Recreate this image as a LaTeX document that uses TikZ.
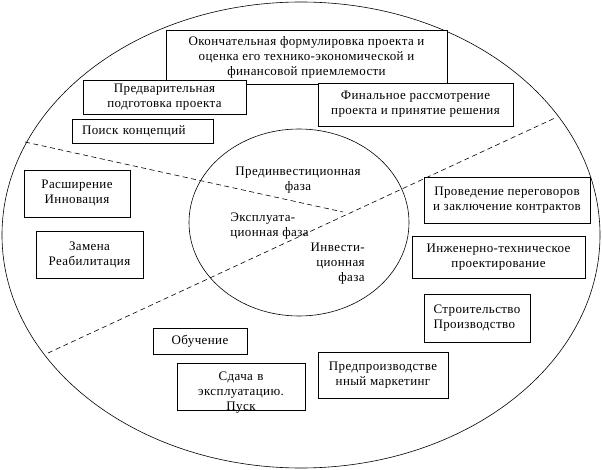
\documentclass[tikz,border=0pt]{standalone}
\usepackage{fontspec}
\setmainfont[LetterSpace=3]{Liberation Serif}
\usetikzlibrary{positioning}

\begin{document}
\begin{tikzpicture}[x=1pt, y=-1pt, line width=0.6pt,
  box/.style={rectangle, draw, fill=white, inner sep=0pt, align=center, font=\fontsize{13}{15}\selectfont},
  phase/.style={inner sep=0pt, font=\fontsize{13}{15}\selectfont},
  divider/.style={dash pattern=on 5pt off 3.5pt}
]
  \useasboundingbox (0,0) rectangle (602,470);

  % Ellipses
  \draw (301,235) ellipse [x radius=299pt, y radius=233pt];
  \draw (299,222.5) ellipse [x radius=110pt, y radius=93.5pt];

  % Dividers
  \coordinate (hub) at (343,212);
  \coordinate (cutwest) at (25,142);
  \coordinate (cutsouth) at (48,353);
  \coordinate (cuteast) at (555,118);
  \draw[divider] (cutwest) -- (hub);
  \draw[divider] (cutsouth) -- (cuteast);

  % Phases
  \node[phase, align=center] (preinv) at (298,180) {Прединвестиционная\\фаза};
  \node[phase, align=left, anchor=west] (oper) at (230,226) {Эксплуата-\\ционная фаза};
  \node[phase, align=right, anchor=east] (inv) at (365,264) {Инвести-\\ционная\\фаза};

  % Pre-investment phase
  \node[box, minimum width=281pt, minimum height=54pt] (formul) at (306.5,57) {Окончательная формулировка проекта и\\оценка его технико-экономической и\\финансовой приемлемости};
  \node[box, minimum width=163pt, minimum height=34pt] (prelim) at (164.5,97) {Предварительная\\подготовка проекта};
  \node[box, minimum width=141pt, minimum height=24pt, text width=121pt, align=left, below=5pt of prelim, xshift=-22pt] (search) {Поиск концепций};
  \node[box, minimum width=195pt, minimum height=43pt] (final) at (415.5,104.5) {Финальное рассмотрение\\проекта и принятие решения};

  % Investment phase
  \node[box, minimum width=166pt, minimum height=46pt] (talks) at (507,200) {Проведение переговоров\\и заключение контрактов};
  \node[box, minimum width=173pt, minimum height=42pt, below=13pt of talks, xshift=-8.5pt] (design) {Инженерно-техническое\\проектирование};
  \node[box, minimum width=106pt, minimum height=48pt, align=left, below=15pt of design, xshift=-21.5pt] (build) {Строительство\\Производство};
  \node[box, minimum width=130pt, minimum height=46pt] (market) at (383,375) {Предпроизводстве\\нный маркетинг};
  \node[box, minimum width=94pt, minimum height=26pt] (train) at (200,341) {Обучение};
  \node[box, text width=128pt, text height=17pt, text depth=30pt] (launch) at (241,386.5) {Сдача в\\эксплуатацию.\\Пуск};

  % Operational phase
  \node[box, minimum width=106pt, minimum height=47pt] (expand) at (77,193.5) {Расширение\\Инновация};
  \node[box, minimum width=107pt, minimum height=47pt, below=14pt of expand, xshift=12.5pt] (replace) {Замена\\Реабилитация};
\end{tikzpicture}
\end{document}
